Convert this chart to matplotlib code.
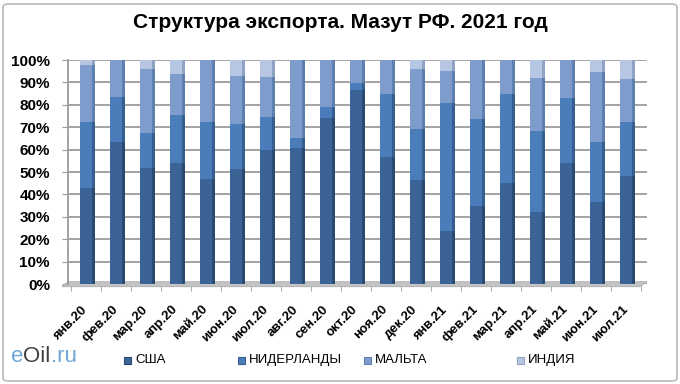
import matplotlib.pyplot as plt
from matplotlib.patches import FancyBboxPatch, Rectangle, Polygon
from matplotlib.offsetbox import TextArea, HPacker, AnnotationBbox
import numpy as np

plt.rcParams['font.family'] = ['Liberation Sans Narrow', 'Liberation Sans', 'DejaVu Sans']

months = ['янв.20', 'фев.20', 'мар.20', 'апр.20', 'май.20', 'июн.20', 'июл.20',
          'авг.20', 'сен.20', 'окт.20', 'ноя.20', 'дек.20', 'янв.21', 'фев.21',
          'мар.21', 'апр.21', 'май.21', 'июн.21', 'июл.21']
usa   = [42.8, 63.6, 52.0, 54.2, 46.8, 51.4, 59.9, 60.6, 74.0, 86.6, 56.6, 46.5,
         23.5, 34.6, 45.0, 32.0, 54.0, 36.8, 48.0]
neth  = [29.4, 19.8, 15.2, 21.3, 25.7, 19.9, 14.8, 4.8, 5.2, 3.3, 28.2, 22.7,
         57.2, 39.1, 39.7, 36.4, 28.9, 26.8, 24.2]
malta = [25.6, 16.6, 28.8, 18.3, 27.5, 21.7, 17.6, 34.6, 20.8, 10.1, 15.2, 26.8,
         14.5, 26.3, 15.3, 23.7, 17.1, 31.2, 19.3]
india = [2.2, 0.0, 4.0, 6.2, 0.0, 7.0, 7.7, 0.0, 0.0, 0.0, 0.0, 4.0,
         4.8, 0.0, 0.0, 7.9, 0.0, 5.2, 8.5]

names = ['США', 'НИДЕРЛАНДЫ', 'МАЛЬТА', 'ИНДИЯ']
front = ['#3b6395', '#4a7dba', '#7e9dcd', '#b7c7e3']
side  = ['#2a4a72', '#36608f', '#5f7fae', '#8fa3c4']

W, H = 680, 384
fig = plt.figure(figsize=(6.8, 3.84), dpi=100)

# outer border
fig.add_artist(FancyBboxPatch((3 / W, 3 / H), 674 / W, 377 / H,
                              boxstyle='round,pad=0,rounding_size=0.008',
                              transform=fig.transFigure, fill=False,
                              ec='#bdbdbd', lw=1.3))

a, b = -0.6, 18.7
x0 = 86 + 30 * a
x1 = 86 + 30 * b
ax = fig.add_axes([x0 / W, 100 / H, (x1 - x0) / W, 224 / H])
ax.set_xlim(a, b)
ax.set_ylim(0, 100)

x = np.arange(len(months))
bw = 0.37
bottom = np.zeros(len(months))
for vals, fc, sc in zip([usa, neth, malta, india], front, side):
    v = np.array(vals)
    ax.bar(x, v, bw, bottom=bottom, color=fc, zorder=3, lw=0)
    ax.bar(x + bw / 2, v, 0.1, bottom=bottom, align='edge', color=sc, zorder=3, lw=0)
    bottom += v

# floor
ax.add_patch(Polygon([(a - 0.2, -1.2), (b - 0.25, -1.2), (b, 1.0), (a, 1.0)],
                     closed=True, fc='#c4c4c4', ec='#a8a8a8', lw=0.6,
                     clip_on=False, zorder=2))

ax.set_yticks(range(0, 101, 10))
ax.set_yticklabels([f'{v}%' for v in range(0, 101, 10)],
                   fontsize=11, fontweight='bold')
ax.yaxis.grid(True, color='#9c9c9c', lw=1.3, zorder=0)
ax.tick_params(axis='y', length=4, color='#9c9c9c', pad=9)

ax.set_xticks(x)
ax.set_xticklabels(months, rotation=45, ha='right', va='center',
                   rotation_mode='anchor', fontsize=9.5, fontweight='bold')
ax.tick_params(axis='x', length=0, pad=17)
ax.set_xticks(np.arange(-0.5, 19, 1), minor=True)
ax.tick_params(axis='x', which='minor', length=5, color='#9c9c9c', direction='out')

for s in ['top', 'right', 'bottom']:
    ax.spines[s].set_visible(False)
ax.spines['left'].set_color('#9c9c9c')
ax.spines['left'].set_linewidth(1.3)

fig.text(340 / W, 1 - 22 / H, 'Структура экспорта. Мазут РФ. 2021 год',
         ha='center', va='center', fontsize=15, fontweight='bold')

# legend
leg_x = [127, 241, 367, 520]
for lx, name, fc, sc in zip(leg_x, names, front, side):
    fig.add_artist(Rectangle(((lx - 3.5) / W, (H - 360 - 3.5) / H), 7 / W, 7 / H,
                             transform=fig.transFigure, fc=fc, ec=sc, lw=0.8))
    fig.text((lx + 8) / W, 1 - 360 / H, name, ha='left', va='center', fontsize=9.5)

# logo
parts = [TextArea(t, textprops=dict(color=c, fontsize=16))
         for t, c in [('e', '#6fa6d8'), ('Oil', '#404040'), ('.ru', '#6fa6d8')]]
logo = HPacker(children=parts, align='baseline', pad=0, sep=0)
fig.add_artist(AnnotationBbox(logo, (11 / W, 1 - 357 / H), xycoords='figure fraction',
                              box_alignment=(0, 0.5), frameon=False))

fig.savefig('out.png', dpi=100)
